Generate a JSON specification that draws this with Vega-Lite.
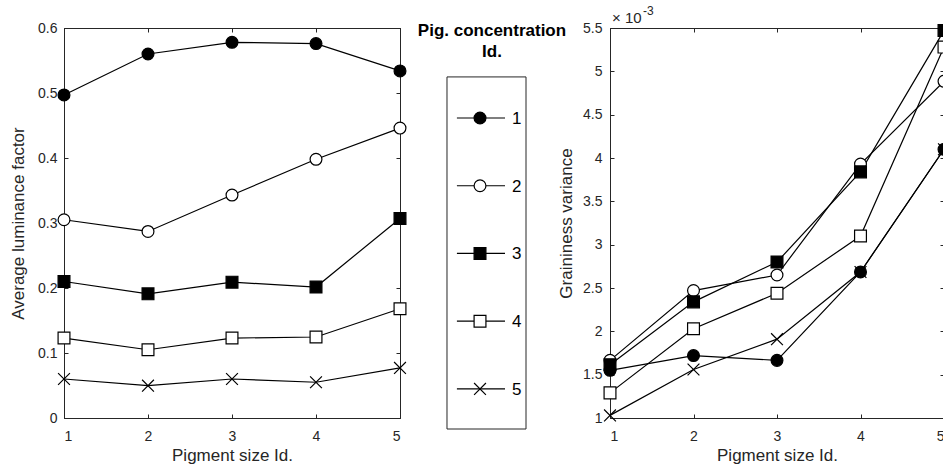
{
  "$schema": "https://vega.github.io/schema/vega-lite/v6.json",
  "padding": {"left": 8, "top": 4, "right": 0, "bottom": 0},
  "background": "white",
  "config": {
    "font": "Liberation Sans",
    "view": {"stroke": "#262626", "strokeWidth": 1},
    "axis": {
      "grid": false,
      "domainColor": "#262626",
      "tickColor": "#262626",
      "labelColor": "#262626",
      "titleColor": "#262626",
      "labelFont": "Liberation Sans",
      "titleFont": "Liberation Sans",
      "labelFontSize": 14,
      "titleFontSize": 17,
      "titleFontWeight": "normal",
      "tickSize": -4,
      "labelPadding": 11,
      "domainWidth": 1
    }
  },
  "datasets": {
    "luminance": [
      {"pigment_size": 1, "concentration": "1", "luminance": 0.497},
      {"pigment_size": 2, "concentration": "1", "luminance": 0.560},
      {"pigment_size": 3, "concentration": "1", "luminance": 0.578},
      {"pigment_size": 4, "concentration": "1", "luminance": 0.576},
      {"pigment_size": 5, "concentration": "1", "luminance": 0.534},
      {"pigment_size": 1, "concentration": "2", "luminance": 0.305},
      {"pigment_size": 2, "concentration": "2", "luminance": 0.287},
      {"pigment_size": 3, "concentration": "2", "luminance": 0.343},
      {"pigment_size": 4, "concentration": "2", "luminance": 0.398},
      {"pigment_size": 5, "concentration": "2", "luminance": 0.446},
      {"pigment_size": 1, "concentration": "3", "luminance": 0.210},
      {"pigment_size": 2, "concentration": "3", "luminance": 0.191},
      {"pigment_size": 3, "concentration": "3", "luminance": 0.209},
      {"pigment_size": 4, "concentration": "3", "luminance": 0.2015},
      {"pigment_size": 5, "concentration": "3", "luminance": 0.307},
      {"pigment_size": 1, "concentration": "4", "luminance": 0.123},
      {"pigment_size": 2, "concentration": "4", "luminance": 0.105},
      {"pigment_size": 3, "concentration": "4", "luminance": 0.123},
      {"pigment_size": 4, "concentration": "4", "luminance": 0.1246},
      {"pigment_size": 5, "concentration": "4", "luminance": 0.168},
      {"pigment_size": 1, "concentration": "5", "luminance": 0.060},
      {"pigment_size": 2, "concentration": "5", "luminance": 0.0497},
      {"pigment_size": 3, "concentration": "5", "luminance": 0.060},
      {"pigment_size": 4, "concentration": "5", "luminance": 0.055},
      {"pigment_size": 5, "concentration": "5", "luminance": 0.077}
    ],
    "graininess": [
      {"pigment_size": 1, "concentration": "1", "variance": 0.00155},
      {"pigment_size": 2, "concentration": "1", "variance": 0.00172},
      {"pigment_size": 3, "concentration": "1", "variance": 0.001665},
      {"pigment_size": 4, "concentration": "1", "variance": 0.002685},
      {"pigment_size": 5, "concentration": "1", "variance": 0.00410},
      {"pigment_size": 1, "concentration": "2", "variance": 0.001665},
      {"pigment_size": 2, "concentration": "2", "variance": 0.00247},
      {"pigment_size": 3, "concentration": "2", "variance": 0.00265},
      {"pigment_size": 4, "concentration": "2", "variance": 0.00393},
      {"pigment_size": 5, "concentration": "2", "variance": 0.004885},
      {"pigment_size": 1, "concentration": "3", "variance": 0.001615},
      {"pigment_size": 2, "concentration": "3", "variance": 0.00234},
      {"pigment_size": 3, "concentration": "3", "variance": 0.00280},
      {"pigment_size": 4, "concentration": "3", "variance": 0.00384},
      {"pigment_size": 5, "concentration": "3", "variance": 0.00547},
      {"pigment_size": 1, "concentration": "4", "variance": 0.00129},
      {"pigment_size": 2, "concentration": "4", "variance": 0.00203},
      {"pigment_size": 3, "concentration": "4", "variance": 0.00244},
      {"pigment_size": 4, "concentration": "4", "variance": 0.00310},
      {"pigment_size": 5, "concentration": "4", "variance": 0.00528},
      {"pigment_size": 1, "concentration": "5", "variance": 0.00103},
      {"pigment_size": 2, "concentration": "5", "variance": 0.00156},
      {"pigment_size": 3, "concentration": "5", "variance": 0.00191},
      {"pigment_size": 4, "concentration": "5", "variance": 0.002685},
      {"pigment_size": 5, "concentration": "5", "variance": 0.00410}
    ],
    "series": [
      {"concentration": "1"},
      {"concentration": "2"},
      {"concentration": "3"},
      {"concentration": "4"},
      {"concentration": "5"}
    ]
  },
  "spacing": 0,
  "bounds": "flush",
  "hconcat": [
    {
      "width": 336,
      "height": 390,
      "data": {"name": "luminance"},
      "layer": [
        {
          "mark": {"type": "line", "color": "black", "strokeWidth": 1.2},
          "encoding": {
            "x": {"field": "pigment_size", "type": "quantitative", "scale": {"domain": [1, 5]},
              "axis": {"values": [1, 2, 3, 4, 5], "format": "d", "title": "Pigment size Id.", "labelPadding": 15, "titlePadding": 4}},
            "y": {"field": "luminance", "type": "quantitative", "scale": {"domain": [0, 0.6]},
              "axis": {"values": [0, 0.1, 0.2, 0.3, 0.4, 0.5, 0.6], "format": "~g", "title": "Average luminance factor", "titlePadding": 10.5}},
            "detail": {"field": "concentration"}
          }
        },
        {
          "mark": {"type": "point", "filled": true, "stroke": "black", "strokeWidth": 1.2, "opacity": 1, "size": 140},
          "encoding": {
            "x": {"field": "pigment_size", "type": "quantitative",
              "axis": {"orient": "top", "values": [1, 2, 3, 4, 5], "labels": false, "title": null}},
            "y": {"field": "luminance", "type": "quantitative",
              "axis": {"orient": "right", "values": [0, 0.1, 0.2, 0.3, 0.4, 0.5, 0.6], "labels": false, "title": null}},
            "shape": {"field": "concentration", "type": "nominal", "legend": null,
              "scale": {"domain": ["1", "2", "3", "4", "5"], "range": ["circle", "circle", "square", "square", "M-1,-1L1,1M1,-1L-1,1"]}},
            "fill": {"field": "concentration", "type": "nominal", "legend": null,
              "scale": {"domain": ["1", "2", "3", "4", "5"], "range": ["black", "white", "black", "white", "transparent"]}}
          }
        }
      ],
      "resolve": {"axis": {"x": "independent", "y": "independent"}}
    },
    {
      "width": 210,
      "height": 401,
      "view": {"stroke": null},
      "data": {"name": "series"},
      "layer": [
        {
          "layer": [
            {
              "data": {"values": [{}]},
              "mark": {"type": "rect", "fill": "transparent", "stroke": "#262626", "strokeWidth": 1},
              "encoding": {
                "x": {"datum": 0.2238, "type": "quantitative", "scale": {"domain": [0, 1]}, "axis": null},
                "x2": {"datum": 0.6},
                "y": {"datum": 0.878, "type": "quantitative", "scale": {"domain": [0, 1]}, "axis": null},
                "y2": {"datum": 0}
              }
            },
            {
              "data": {"values": [{}]},
              "mark": {"type": "text", "text": ["Pig. concentration", "Id."], "fontWeight": "bold", "fontSize": 17, "lineHeight": 21, "align": "center", "baseline": "alphabetic", "color": "black"},
              "encoding": {
                "x": {"datum": 0.438, "type": "quantitative", "axis": null},
                "y": {"datum": 0.98, "type": "quantitative", "axis": null}
              }
            }
          ]
        },
        {
          "encoding": {
            "y": {"field": "concentration", "type": "ordinal", "scale": {"type": "point", "padding": 0.96, "align": 0.692}, "axis": null}
          },
          "layer": [
            {
              "mark": {"type": "rule", "color": "black", "strokeWidth": 1.2},
              "encoding": {
                "x": {"datum": 0.271, "type": "quantitative", "scale": {"domain": [0, 1]}, "axis": null},
                "x2": {"datum": 0.5}
              }
            },
            {
              "mark": {"type": "point", "filled": true, "stroke": "black", "strokeWidth": 1.2, "opacity": 1, "size": 140},
              "encoding": {
                "x": {"datum": 0.381, "type": "quantitative", "axis": null},
                "shape": {"field": "concentration", "type": "nominal", "legend": null,
                  "scale": {"domain": ["1", "2", "3", "4", "5"], "range": ["circle", "circle", "square", "square", "M-1,-1L1,1M1,-1L-1,1"]}},
                "fill": {"field": "concentration", "type": "nominal", "legend": null,
                  "scale": {"domain": ["1", "2", "3", "4", "5"], "range": ["black", "white", "black", "white", "transparent"]}}
              }
            },
            {
              "mark": {"type": "text", "align": "left", "baseline": "middle", "fontSize": 17, "color": "black", "dy": 1},
              "encoding": {
                "x": {"datum": 0.533, "type": "quantitative", "axis": null},
                "text": {"field": "concentration"}
              }
            }
          ]
        }
      ],
      "resolve": {"scale": {"y": "independent"}}
    },
    {
      "width": 334,
      "height": 390,
      "data": {"name": "graininess"},
      "layer": [
        {
          "mark": {"type": "line", "color": "black", "strokeWidth": 1.2},
          "encoding": {
            "x": {"field": "pigment_size", "type": "quantitative", "scale": {"domain": [1, 5]},
              "axis": {"values": [1, 2, 3, 4, 5], "format": "d", "title": "Pigment size Id.", "labelPadding": 15, "titlePadding": 4}},
            "y": {"field": "variance", "type": "quantitative", "scale": {"domain": [0.001, 0.0055]},
              "axis": {"values": [0.001, 0.0015, 0.002, 0.0025, 0.003, 0.0035, 0.004, 0.0045, 0.005, 0.0055],
                "labelExpr": "format(datum.value * 1000, '~g')", "title": "Graininess variance", "labelPadding": 12, "titlePadding": 7.5}},
            "detail": {"field": "concentration"}
          }
        },
        {
          "mark": {"type": "point", "filled": true, "stroke": "black", "strokeWidth": 1.2, "opacity": 1, "size": 140},
          "encoding": {
            "x": {"field": "pigment_size", "type": "quantitative",
              "axis": {"orient": "top", "values": [1, 2, 3, 4, 5], "labels": false, "title": null}},
            "y": {"field": "variance", "type": "quantitative",
              "axis": {"orient": "right", "values": [0.001, 0.0015, 0.002, 0.0025, 0.003, 0.0035, 0.004, 0.0045, 0.005, 0.0055], "labels": false, "title": null}},
            "shape": {"field": "concentration", "type": "nominal", "legend": null,
              "scale": {"domain": ["1", "2", "3", "4", "5"], "range": ["circle", "circle", "square", "square", "M-1,-1L1,1M1,-1L-1,1"]}},
            "fill": {"field": "concentration", "type": "nominal", "legend": null,
              "scale": {"domain": ["1", "2", "3", "4", "5"], "range": ["black", "white", "black", "white", "transparent"]}}
          }
        },
        {
          "data": {"values": [{"label": "× 10"}]},
          "mark": {"type": "text", "align": "left", "baseline": "alphabetic", "dx": 2, "dy": -5, "fontSize": 15, "color": "#262626"},
          "encoding": {
            "x": {"datum": 1, "type": "quantitative", "axis": null},
            "y": {"datum": 0.0055, "type": "quantitative", "axis": null},
            "text": {"field": "label"}
          }
        },
        {
          "data": {"values": [{"label": "-3"}]},
          "mark": {"type": "text", "align": "left", "baseline": "alphabetic", "dx": 33, "dy": -13, "fontSize": 12, "color": "#262626"},
          "encoding": {
            "x": {"datum": 1, "type": "quantitative", "axis": null},
            "y": {"datum": 0.0055, "type": "quantitative", "axis": null},
            "text": {"field": "label"}
          }
        }
      ],
      "resolve": {"axis": {"x": "independent", "y": "independent"}}
    }
  ]
}
